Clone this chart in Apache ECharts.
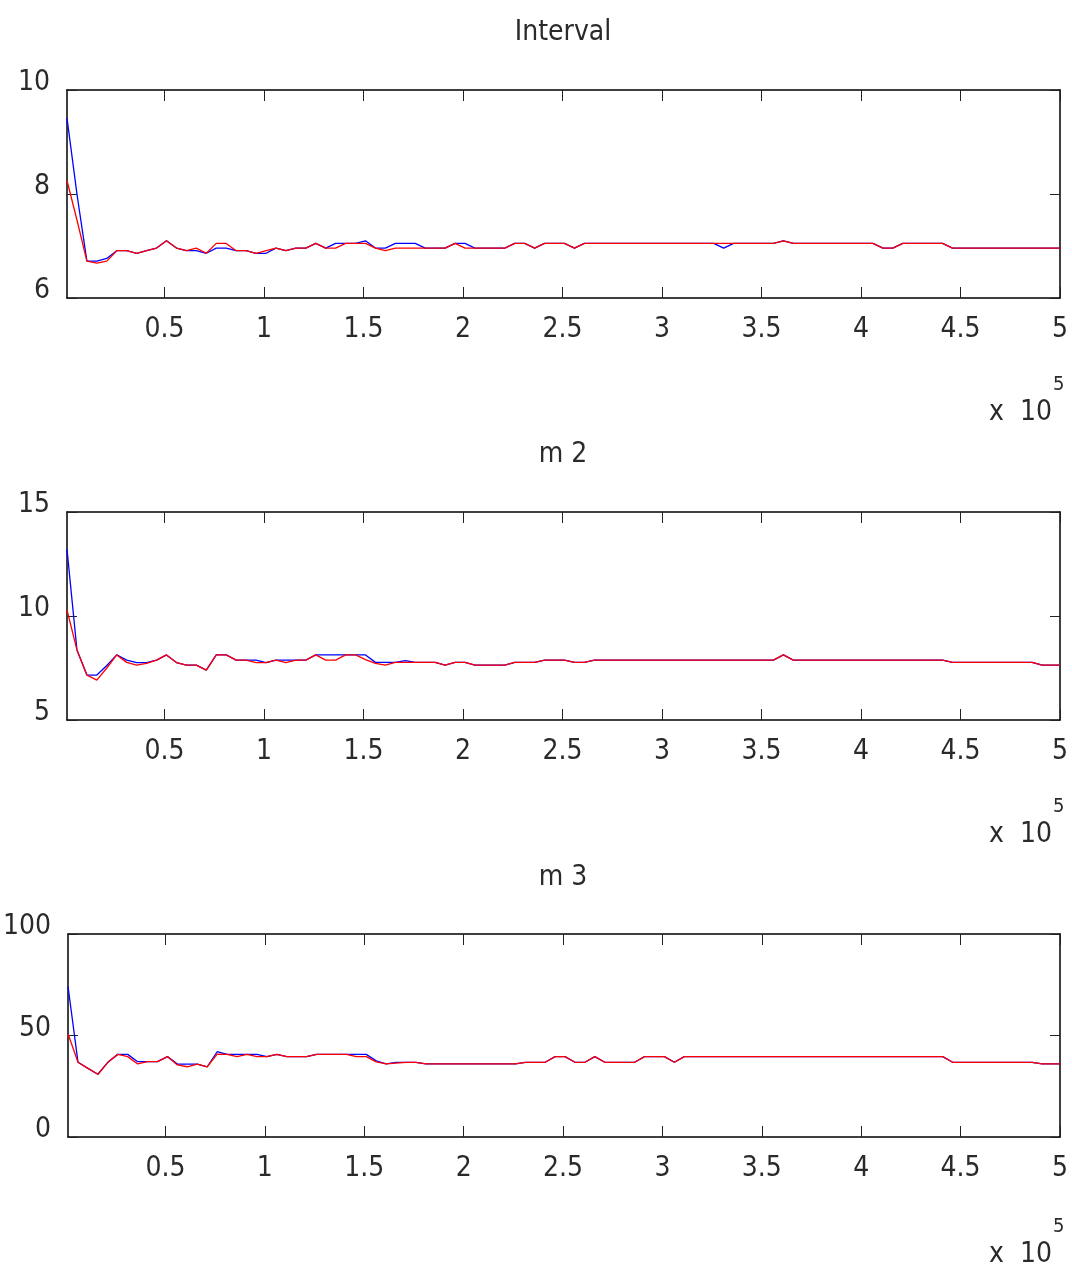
<!DOCTYPE html>
<html>
<head>
<meta charset="utf-8">
<script src="https://cdn.jsdelivr.net/npm/echarts@6/dist/echarts.min.js"></script>
<style>html,body{margin:0;padding:0;background:#fff}#c{width:1072px;height:1282px}</style>
</head>
<body>
<div id="c"></div>
<script>
// ---------- data ----------
const xStart = 1000, xStep = 5000, nSamples = 100, xEnd = 500000;
const xs = [];
for (let k = 0; k < nSamples; k++) xs.push(xStart + k * xStep);
xs.push(xEnd);

const xTickValues = [50000, 100000, 150000, 200000, 250000, 300000, 350000, 400000, 450000, 500000];
const xTickLabels = ['0.5', '1', '1.5', '2', '2.5', '3', '3.5', '4', '4.5', '5'];

const titles = ['Interval', 'm 2', 'm 3'];
const yMins = [6, 5, 0];
const yMaxs = [10, 15, 100];
const yIntervals = [2, 5, 50];

const intervalBlue = [
  9.46, 8.0, 6.71, 6.71, 6.76, 6.91, 6.91, 6.86, 6.91, 6.96,
  7.10, 6.96, 6.91, 6.91, 6.86, 6.96, 6.96, 6.91, 6.91, 6.86,
  6.86, 6.96, 6.91, 6.96, 6.96, 7.05, 6.96, 7.05, 7.05, 7.05,
  7.10, 6.96, 6.96, 7.05, 7.05, 7.05, 6.96, 6.96, 6.96, 7.05,
  7.05, 6.96, 6.96, 6.96, 6.96, 7.05, 7.05, 6.96, 7.05, 7.05,
  7.05, 6.96, 7.05, 7.05, 7.05, 7.05, 7.05, 7.05, 7.05, 7.05,
  7.05, 7.05, 7.05, 7.05, 7.05, 7.05, 6.96, 7.05, 7.05, 7.05,
  7.05, 7.05, 7.10, 7.05, 7.05, 7.05, 7.05, 7.05, 7.05, 7.05,
  7.05, 7.05, 6.96, 6.96, 7.05, 7.05, 7.05, 7.05, 7.05, 6.96,
  6.96, 6.96, 6.96, 6.96, 6.96, 6.96, 6.96, 6.96, 6.96, 6.96,
  6.96
];
const intervalRed = [
  8.26, 7.5, 6.71, 6.67, 6.71, 6.91, 6.91, 6.86, 6.91, 6.96,
  7.10, 6.96, 6.91, 6.96, 6.86, 7.05, 7.05, 6.91, 6.91, 6.86,
  6.91, 6.96, 6.91, 6.96, 6.96, 7.05, 6.96, 6.96, 7.05, 7.05,
  7.05, 6.96, 6.91, 6.96, 6.96, 6.96, 6.96, 6.96, 6.96, 7.05,
  6.96, 6.96, 6.96, 6.96, 6.96, 7.05, 7.05, 6.96, 7.05, 7.05,
  7.05, 6.96, 7.05, 7.05, 7.05, 7.05, 7.05, 7.05, 7.05, 7.05,
  7.05, 7.05, 7.05, 7.05, 7.05, 7.05, 7.05, 7.05, 7.05, 7.05,
  7.05, 7.05, 7.10, 7.05, 7.05, 7.05, 7.05, 7.05, 7.05, 7.05,
  7.05, 7.05, 6.96, 6.96, 7.05, 7.05, 7.05, 7.05, 7.05, 6.96,
  6.96, 6.96, 6.96, 6.96, 6.96, 6.96, 6.96, 6.96, 6.96, 6.96,
  6.96
];
const m2Blue = [
  13.21, 8.37, 7.16, 7.16, 7.62, 8.13, 7.88, 7.76, 7.76, 7.88,
  8.13, 7.76, 7.64, 7.64, 7.40, 8.13, 8.13, 7.88, 7.88, 7.88,
  7.76, 7.88, 7.88, 7.88, 7.88, 8.13, 8.13, 8.13, 8.13, 8.13,
  8.13, 7.77, 7.77, 7.77, 7.85, 7.77, 7.77, 7.77, 7.64, 7.77,
  7.77, 7.64, 7.64, 7.64, 7.64, 7.77, 7.77, 7.77, 7.88, 7.88,
  7.88, 7.77, 7.77, 7.88, 7.88, 7.88, 7.88, 7.88, 7.88, 7.88,
  7.88, 7.88, 7.88, 7.88, 7.88, 7.88, 7.88, 7.88, 7.88, 7.88,
  7.88, 7.88, 8.13, 7.88, 7.88, 7.88, 7.88, 7.88, 7.88, 7.88,
  7.88, 7.88, 7.88, 7.88, 7.88, 7.88, 7.88, 7.88, 7.88, 7.77,
  7.77, 7.77, 7.77, 7.77, 7.77, 7.77, 7.77, 7.77, 7.64, 7.64,
  7.64
];
const m2Red = [
  10.29, 8.37, 7.16, 6.92, 7.50, 8.13, 7.77, 7.64, 7.72, 7.88,
  8.13, 7.76, 7.64, 7.64, 7.40, 8.13, 8.13, 7.88, 7.88, 7.76,
  7.76, 7.88, 7.76, 7.88, 7.88, 8.13, 7.88, 7.88, 8.13, 8.13,
  7.90, 7.72, 7.64, 7.77, 7.77, 7.77, 7.77, 7.77, 7.64, 7.77,
  7.77, 7.64, 7.64, 7.64, 7.64, 7.77, 7.77, 7.77, 7.88, 7.88,
  7.88, 7.77, 7.77, 7.88, 7.88, 7.88, 7.88, 7.88, 7.88, 7.88,
  7.88, 7.88, 7.88, 7.88, 7.88, 7.88, 7.88, 7.88, 7.88, 7.88,
  7.88, 7.88, 8.13, 7.88, 7.88, 7.88, 7.88, 7.88, 7.88, 7.88,
  7.88, 7.88, 7.88, 7.88, 7.88, 7.88, 7.88, 7.88, 7.88, 7.77,
  7.77, 7.77, 7.77, 7.77, 7.77, 7.77, 7.77, 7.77, 7.64, 7.64,
  7.64
];
const m3Blue = [
  74.0, 36.8, 33.8, 30.9, 36.8, 40.7, 40.7, 37.1, 37.1, 37.1,
  39.6, 35.9, 35.9, 35.9, 34.6, 42.0, 40.7, 40.7, 40.7, 40.7,
  39.6, 40.7, 39.6, 39.6, 39.6, 40.7, 40.7, 40.7, 40.7, 40.7,
  40.7, 37.5, 36.0, 36.8, 36.8, 36.8, 36.0, 36.0, 36.0, 36.0,
  36.0, 36.0, 36.0, 36.0, 36.0, 36.0, 36.8, 36.8, 36.8, 39.6,
  39.6, 36.8, 36.8, 39.6, 36.8, 36.8, 36.8, 36.8, 39.6, 39.6,
  39.6, 36.8, 39.6, 39.6, 39.6, 39.6, 39.6, 39.6, 39.6, 39.6,
  39.6, 39.6, 39.6, 39.6, 39.6, 39.6, 39.6, 39.6, 39.6, 39.6,
  39.6, 39.6, 39.6, 39.6, 39.6, 39.6, 39.6, 39.6, 39.6, 36.8,
  36.8, 36.8, 36.8, 36.8, 36.8, 36.8, 36.8, 36.8, 36.0, 36.0,
  36.0
];
const m3Red = [
  50.7, 36.8, 33.8, 30.9, 36.8, 40.7, 39.6, 36.0, 37.1, 37.1,
  39.6, 35.5, 34.6, 35.9, 34.6, 40.8, 40.7, 39.6, 40.7, 39.6,
  39.6, 40.7, 39.6, 39.6, 39.6, 40.7, 40.7, 40.7, 40.7, 39.6,
  39.6, 37.0, 36.0, 36.4, 36.8, 36.8, 36.0, 36.0, 36.0, 36.0,
  36.0, 36.0, 36.0, 36.0, 36.0, 36.0, 36.8, 36.8, 36.8, 39.6,
  39.6, 36.8, 36.8, 39.6, 36.8, 36.8, 36.8, 36.8, 39.6, 39.6,
  39.6, 36.8, 39.6, 39.6, 39.6, 39.6, 39.6, 39.6, 39.6, 39.6,
  39.6, 39.6, 39.6, 39.6, 39.6, 39.6, 39.6, 39.6, 39.6, 39.6,
  39.6, 39.6, 39.6, 39.6, 39.6, 39.6, 39.6, 39.6, 39.6, 36.8,
  36.8, 36.8, 36.8, 36.8, 36.8, 36.8, 36.8, 36.8, 36.0, 36.0,
  36.0
];
const blueSeries = [intervalBlue, m2Blue, m3Blue];
const redSeries = [intervalRed, m2Red, m3Red];

// ---------- layout ----------
const FONT = "'Liberation Sans Narrow', 'DejaVu Sans Condensed', 'Arial Narrow', 'Liberation Sans', sans-serif";
const TXT = '#2a2a2a';
const gridTops = [90, 512, 934];
const gridHeights = [208, 208, 203];
const titleTops = [14, 436, 859];
const expTops = [394, 816, 1236];

const grids = [], xAxes = [], yAxes = [], series = [], titleArr = [];
const axisLineStyle = { color: '#000', width: 1.5 };
const tickStyle = { color: '#222', width: 1 };

for (let i = 0; i < 3; i++) {
  grids.push({ left: 67, width: 993, top: gridTops[i], height: gridHeights[i], containLabel: false });
  // bottom x
  xAxes.push({
    type: 'value', gridIndex: i, position: 'bottom', min: xStart, max: xEnd,
    axisLine: { show: true, lineStyle: axisLineStyle, onZero: false },
    axisTick: { show: true, inside: true, length: 11, lineStyle: tickStyle, customValues: xTickValues },
    axisLabel: {
      show: true, customValues: xTickValues, margin: 18, color: TXT, fontFamily: FONT, fontSize: 28,
      formatter: v => xTickLabels[xTickValues.indexOf(v)] ?? ''
    },
    splitLine: { show: false }
  });
  // top x (box)
  xAxes.push({
    type: 'value', gridIndex: i, position: 'top', min: xStart, max: xEnd,
    axisLine: { show: true, lineStyle: axisLineStyle, onZero: false },
    axisTick: { show: true, inside: true, length: 11, lineStyle: tickStyle, customValues: xTickValues },
    axisLabel: { show: false },
    splitLine: { show: false }
  });
  // left y
  yAxes.push({
    type: 'value', gridIndex: i, position: 'left', min: yMins[i], max: yMaxs[i], interval: yIntervals[i],
    axisLine: { show: true, lineStyle: axisLineStyle, onZero: false },
    axisTick: { show: true, inside: true, length: 10, lineStyle: tickStyle },
    axisLabel: {
      show: true, margin: 17, color: TXT, fontFamily: FONT, fontSize: 28,
      verticalAlign: 'bottom', lineHeight: 14
    },
    splitLine: { show: false }
  });
  // right y (box)
  yAxes.push({
    type: 'value', gridIndex: i, position: 'right', min: yMins[i], max: yMaxs[i], interval: yIntervals[i],
    axisLine: { show: true, lineStyle: axisLineStyle, onZero: false },
    axisTick: { show: true, inside: true, length: 10, lineStyle: tickStyle },
    axisLabel: { show: false },
    splitLine: { show: false }
  });

  series.push({
    type: 'line', xAxisIndex: 2 * i, yAxisIndex: 2 * i,
    data: xs.map((x, k) => [x, blueSeries[i][k]]),
    showSymbol: false, lineStyle: { color: '#0000ff', width: 1.3 }, itemStyle: { color: '#0000ff' },
    z: 2, silent: true
  });
  series.push({
    type: 'line', xAxisIndex: 2 * i, yAxisIndex: 2 * i,
    data: xs.map((x, k) => [x, redSeries[i][k]]),
    showSymbol: false, lineStyle: { color: '#ff0000', width: 1.3 }, itemStyle: { color: '#ff0000' },
    z: 3, silent: true
  });

  titleArr.push({
    text: titles[i], left: 558, top: titleTops[i], textAlign: 'center',
    textStyle: { fontFamily: FONT, fontSize: 28, fontWeight: 'normal', color: TXT }
  });
  titleArr.push({
    text: 'x  10', left: 984, top: expTops[i],
    textStyle: { fontFamily: FONT, fontSize: 28, fontWeight: 'normal', color: TXT }
  });
  titleArr.push({
    text: '5', left: 1048, top: expTops[i] - 24,
    textStyle: { fontFamily: FONT, fontSize: 20, fontWeight: 'normal', color: TXT }
  });
}

const chart = echarts.init(document.getElementById('c'), null, { renderer: 'canvas' });
chart.setOption({
  animation: false,
  backgroundColor: '#fff',
  title: titleArr,
  grid: grids,
  xAxis: xAxes,
  yAxis: yAxes,
  series: series
});
</script>
</body>
</html>
